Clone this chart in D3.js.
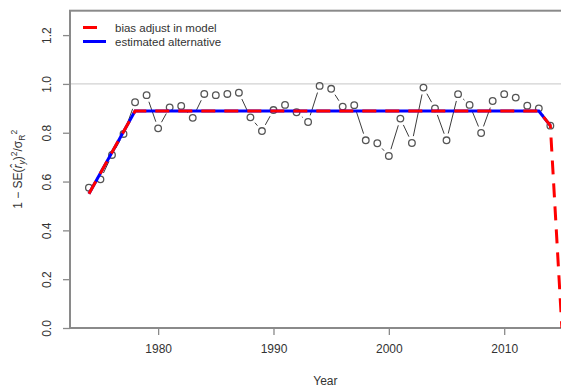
<!DOCTYPE html>
<html>
<head>
<meta charset="utf-8">
<script src="https://cdn.jsdelivr.net/npm/d3@7"></script>
<style>
  html, body { margin: 0; padding: 0; background: #fff; }
  svg { display: block; font-family: "Liberation Sans", Arial, sans-serif; }
</style>
</head>
<body>
<svg id="chart" width="561" height="392"></svg>
<script>
// Annual points: 1 - SE(r_y)^2 / sigma_R^2
const pointYears = [
  1974, 1975, 1976, 1977, 1978, 1979, 1980, 1981, 1982, 1983,
  1984, 1985, 1986, 1987, 1988, 1989, 1990, 1991, 1992, 1993,
  1994, 1995, 1996, 1997, 1998, 1999, 2000, 2001, 2002, 2003,
  2004, 2005, 2006, 2007, 2008, 2009, 2010, 2011, 2012, 2013, 2014
];
const pointValues = [
  0.575, 0.609, 0.709, 0.795, 0.925, 0.954, 0.818, 0.904, 0.910, 0.861,
  0.959, 0.954, 0.959, 0.964, 0.863, 0.807, 0.893, 0.914, 0.884, 0.844,
  0.992, 0.980, 0.907, 0.913, 0.769, 0.757, 0.705, 0.858, 0.758, 0.985,
  0.900, 0.769, 0.958, 0.914, 0.799, 0.930, 0.958, 0.944, 0.911, 0.900, 0.829
];

// Bias-adjustment ramps (breakpoints)
const biasYears = [1974, 1978, 2013, 2014, 2015];
const biasValues = [0.55, 0.889, 0.889, 0.829, 0.0];
const altYears = [1974, 1978, 2013, 2014];
const altValues = [0.55, 0.889, 0.889, 0.829];

const legendLabels = ["bias adjust in model", "estimated alternative"];
const xTicks = [1980, 1990, 2000, 2010];
const yTicks = [0, 0.2, 0.4, 0.6, 0.8, 1.0, 1.2];

const svg = d3.select("#chart");
const plotLeft = 70, plotTop = 10.7, plotBottom = 328, plotRight = 580.8;

const x = d3.scaleLinear().domain([1972.36, 2016.64]).range([plotLeft, plotRight]);
const y = d3.scaleLinear().domain([0, 1.3]).range([plotBottom, plotTop]);

const axisColor = "#8a8a8a";
const textColor = "#333";

// reference line at 1.0
svg.append("line")
  .attr("x1", plotLeft).attr("x2", plotRight)
  .attr("y1", y(1)).attr("y2", y(1))
  .attr("stroke", "#d2d2d2").attr("stroke-width", 1.2);

// x axis
const xAxis = svg.append("g")
  .attr("transform", `translate(0,${plotBottom})`)
  .call(d3.axisBottom(x).tickValues(xTicks).tickFormat(d3.format("d")).tickSize(7).tickPadding(9));
xAxis.select(".domain").remove();
xAxis.selectAll(".tick line").attr("stroke", axisColor).attr("stroke-width", 1.3);
xAxis.selectAll(".tick text").attr("fill", textColor).attr("font-size", 12)
  .attr("font-family", "Liberation Sans, Arial, sans-serif");

// y axis with rotated labels
const yAxis = svg.append("g")
  .attr("transform", `translate(${plotLeft},0)`)
  .call(d3.axisLeft(y).tickValues(yTicks).tickFormat(d3.format(".1f")).tickSize(7));
yAxis.select(".domain").remove();
yAxis.selectAll(".tick line").attr("stroke", axisColor).attr("stroke-width", 1.3);
yAxis.selectAll(".tick text")
  .attr("fill", textColor).attr("font-size", 12)
  .attr("font-family", "Liberation Sans, Arial, sans-serif")
  .attr("x", null)
  .attr("text-anchor", "middle")
  .attr("transform", "translate(-23,0) rotate(-90)")
  .attr("dy", "0.35em");

// plot frame
svg.append("rect")
  .attr("x", plotLeft).attr("y", plotTop)
  .attr("width", plotRight - plotLeft).attr("height", plotBottom - plotTop)
  .attr("fill", "none").attr("stroke", axisColor).attr("stroke-width", 2);

// connecting segments between points, broken around each marker
const gap = 7;
const pts = pointYears.map((yr, i) => [x(yr), y(pointValues[i])]);
const segs = [];
for (let i = 0; i < pts.length - 1; i++) {
  const [x0, y0] = pts[i], [x1, y1] = pts[i + 1];
  const dx = x1 - x0, dy = y1 - y0, len = Math.hypot(dx, dy);
  if (len > 2 * gap) {
    const ux = dx / len, uy = dy / len;
    segs.push([x0 + ux * gap, y0 + uy * gap, x1 - ux * gap, y1 - uy * gap]);
  }
}
svg.append("g").selectAll("line").data(segs).join("line")
  .attr("x1", d => d[0]).attr("y1", d => d[1])
  .attr("x2", d => d[2]).attr("y2", d => d[3])
  .attr("stroke", "#3c3c3c").attr("stroke-width", 1);

svg.append("g").selectAll("circle").data(pts).join("circle")
  .attr("cx", d => d[0]).attr("cy", d => d[1]).attr("r", 3.3)
  .attr("fill", "none").attr("stroke", "#555").attr("stroke-width", 1.3);

// ramps: solid blue beneath dashed red
const line = d3.line().x(d => x(d[0])).y(d => y(d[1]));
svg.append("path")
  .datum(altYears.map((yr, i) => [yr, altValues[i]]))
  .attr("d", line).attr("fill", "none")
  .attr("stroke", "#0000ff").attr("stroke-width", 3);
svg.append("path")
  .datum(biasYears.map((yr, i) => [yr, biasValues[i]]))
  .attr("d", line).attr("fill", "none")
  .attr("stroke", "#ff0000").attr("stroke-width", 3)
  .attr("stroke-dasharray", "14,9");

// legend
const legend = svg.append("g");
const legendColors = ["#ff0000", "#0000ff"];
const legendDash = ["14,9", null];
legendLabels.forEach((lab, i) => {
  const ly = 27.5 + i * 14;
  legend.append("line")
    .attr("x1", 83).attr("x2", 106).attr("y1", ly).attr("y2", ly)
    .attr("stroke", legendColors[i]).attr("stroke-width", 3)
    .attr("stroke-dasharray", legendDash[i]);
  legend.append("text")
    .attr("x", 115).attr("y", ly).attr("dy", "0.35em")
    .attr("font-size", 11.5).attr("fill", textColor).text(lab);
});

// axis titles
svg.append("text")
  .attr("x", (plotLeft + plotRight) / 2).attr("y", 385)
  .attr("text-anchor", "middle").attr("font-size", 12).attr("fill", textColor)
  .text("Year");

const yt = svg.append("text")
  .attr("transform", `translate(22,${(plotTop + plotBottom) / 2}) rotate(-90)`)
  .attr("text-anchor", "middle").attr("font-size", 12).attr("fill", textColor);
yt.append("tspan").text("1 \u2212 SE(");
yt.append("tspan").attr("font-style", "italic").text("r\u0302");
yt.append("tspan").attr("font-size", 8.5).attr("font-style", "italic").attr("dy", 3).text("y");
yt.append("tspan").attr("dy", -3).text(")");
yt.append("tspan").attr("font-size", 8.5).attr("dy", -5).text("2");
yt.append("tspan").attr("dy", 5).text("/\u03c3");
yt.append("tspan").attr("font-size", 8.5).attr("dy", 3).text("R");
yt.append("tspan").attr("font-size", 8.5).attr("dy", -8).text("2");
</script>
</body>
</html>
